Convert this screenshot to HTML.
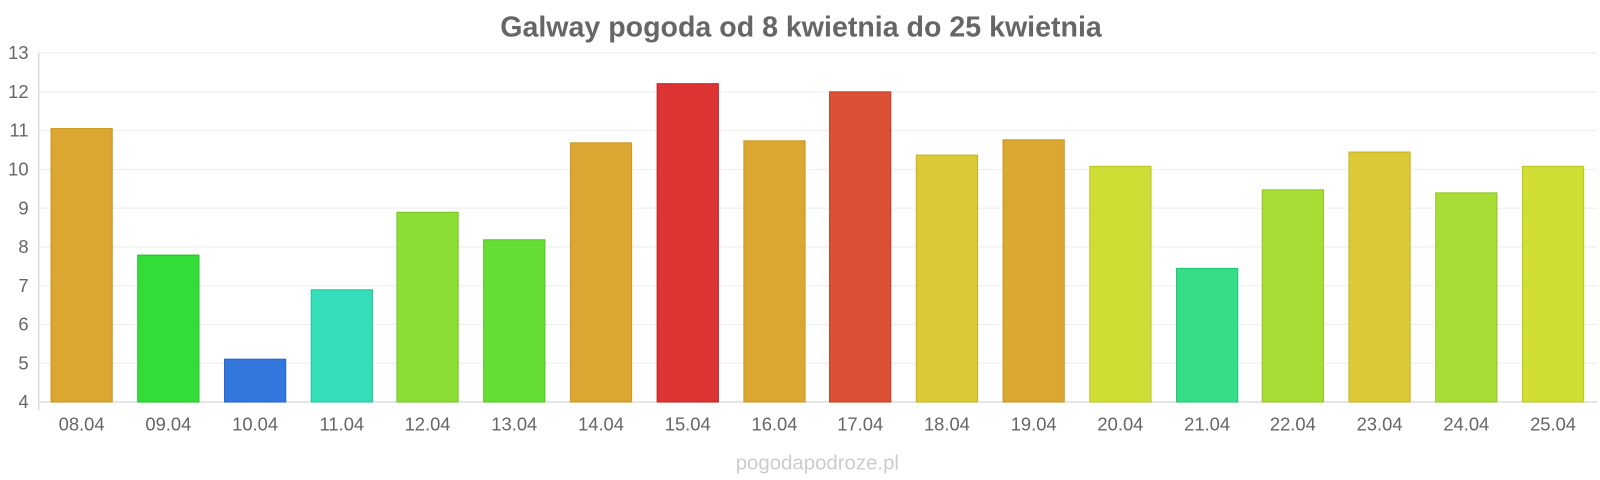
<!DOCTYPE html>
<html><head><meta charset="utf-8"><style>html,body{margin:0;padding:0;background:#fff;overflow:hidden;width:1600px;height:480px}svg{display:block}</style></head><body>
<svg width="1600" height="480" xmlns="http://www.w3.org/2000/svg" font-family="Liberation Sans, sans-serif">
<g transform="scale(1.0204)">
<text x="785" y="36" text-anchor="middle" font-size="28" font-weight="bold" fill="#666">Galway pogoda od 8 kwietnia do 25 kwietnia</text>
<g stroke="#eee" stroke-width="1">
<line x1="38" x2="1565" y1="52" y2="52"/><line x1="38" x2="1565" y1="90" y2="90"/><line x1="38" x2="1565" y1="128" y2="128"/><line x1="38" x2="1565" y1="166" y2="166"/><line x1="38" x2="1565" y1="204" y2="204"/><line x1="38" x2="1565" y1="242" y2="242"/><line x1="38" x2="1565" y1="280" y2="280"/><line x1="38" x2="1565" y1="318" y2="318"/><line x1="38" x2="1565" y1="356" y2="356"/>
</g>
<line x1="38" x2="38" y1="52" y2="402" stroke="#ccc"/>
<line x1="38" x2="1565" y1="394" y2="394" stroke="#ccc"/>
<g font-size="18" fill="#666" text-anchor="end">
<text x="28" y="58">13</text><text x="28" y="96">12</text><text x="28" y="134">11</text><text x="28" y="172">10</text><text x="28" y="210">9</text><text x="28" y="248">8</text><text x="28" y="286">7</text><text x="28" y="324">6</text><text x="28" y="362">5</text><text x="28" y="400">4</text>
</g>
<g stroke-width="1">
<rect x="50" y="126" width="60" height="268" fill="#dba732" stroke="#c9961f"/>
<rect x="135" y="250" width="60" height="144" fill="#33dd38" stroke="#22c02a"/>
<rect x="220" y="352" width="60" height="42" fill="#3377dd" stroke="#2266c9"/>
<rect x="305" y="284" width="60" height="110" fill="#35ddb8" stroke="#22c4a0"/>
<rect x="389" y="208" width="60" height="186" fill="#8cdd35" stroke="#77c422"/>
<rect x="474" y="235" width="60" height="159" fill="#66dd35" stroke="#55c422"/>
<rect x="559" y="140" width="60" height="254" fill="#dba732" stroke="#c9961f"/>
<rect x="644" y="82" width="60" height="312" fill="#dc3333" stroke="#c42222"/>
<rect x="729" y="138" width="60" height="256" fill="#dba732" stroke="#c9961f"/>
<rect x="813" y="90" width="60" height="304" fill="#dc5035" stroke="#c43c22"/>
<rect x="898" y="152" width="60" height="242" fill="#dbc935" stroke="#c4b222"/>
<rect x="983" y="137" width="60" height="257" fill="#dba732" stroke="#c9961f"/>
<rect x="1068" y="163" width="60" height="231" fill="#d0dd35" stroke="#b8c422"/>
<rect x="1153" y="263" width="60" height="131" fill="#35dd88" stroke="#22c474"/>
<rect x="1237" y="186" width="60" height="208" fill="#a8dd35" stroke="#92c422"/>
<rect x="1322" y="149" width="60" height="245" fill="#dbc935" stroke="#c4b222"/>
<rect x="1407" y="189" width="60" height="205" fill="#a8dd35" stroke="#92c422"/>
<rect x="1492" y="163" width="60" height="231" fill="#d0dd35" stroke="#b8c422"/>
</g>
<g font-size="18" fill="#666" text-anchor="middle">
<text x="80" y="422">08.04</text><text x="165" y="422">09.04</text><text x="250" y="422">10.04</text><text x="335" y="422">11.04</text><text x="419" y="422">12.04</text><text x="504" y="422">13.04</text><text x="589" y="422">14.04</text><text x="674" y="422">15.04</text><text x="759" y="422">16.04</text><text x="843" y="422">17.04</text><text x="928" y="422">18.04</text><text x="1013" y="422">19.04</text><text x="1098" y="422">20.04</text><text x="1183" y="422">21.04</text><text x="1267" y="422">22.04</text><text x="1352" y="422">23.04</text><text x="1437" y="422">24.04</text><text x="1522" y="422">25.04</text>
</g>
<text x="801" y="460" text-anchor="middle" font-size="20" fill="#ccc">pogodapodroze.pl</text>
</g>
</svg>
</body></html>
